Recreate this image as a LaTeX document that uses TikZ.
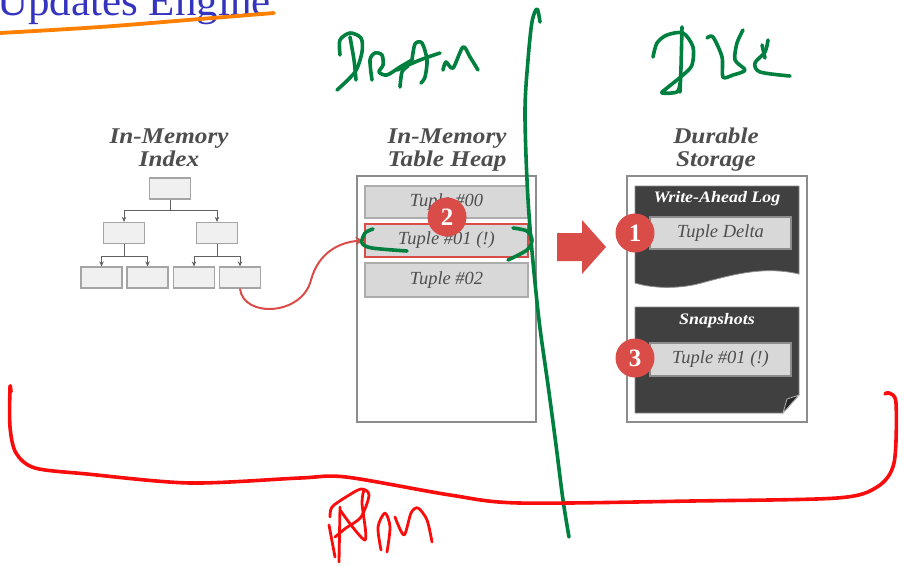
\documentclass[tikz,border=0pt]{standalone}
\usepackage{fontspec}
\newfontfamily\slidefont{Liberation Serif}
\newfontfamily\headfont[FakeStretch=1.12]{Liberation Serif}
\newfontfamily\bodyfont{Liberation Serif}
\usetikzlibrary{arrows.meta}
\definecolor{badgered}{RGB}{218,76,72}
\definecolor{titlegray}{RGB}{78,78,78}
\definecolor{boxfill}{RGB}{240,240,240}
\definecolor{boxline}{RGB}{165,165,165}
\definecolor{tupfill}{RGB}{216,216,216}
\definecolor{tupline}{RGB}{172,172,172}
\definecolor{darkpage}{RGB}{64,64,64}
\definecolor{penGreen}{RGB}{0,128,62}
\definecolor{penRed}{RGB}{248,12,12}
\definecolor{penOrange}{RGB}{255,128,0}
\definecolor{slideblue}{RGB}{52,52,190}
\tikzset{
  coltitle/.style={anchor=base, inner sep=0, text=titlegray, font=\headfont\fontsize{22.5}{24}\selectfont\bfseries\itshape},
  treebox/.style={draw=boxline, fill=boxfill, line width=1.2pt, minimum width=41pt, minimum height=21pt, inner sep=0},
  treeline/.style={draw=black!62, line width=0.9pt, -{Stealth[length=5pt,width=4.5pt]}},
  container/.style={draw=black!45, fill=white, line width=1.5pt, inner sep=0},
  tuplebox/.style={draw=tupline, fill=tupfill, line width=1.2pt, inner sep=0, text=titlegray, font=\bodyfont\fontsize{18.5}{18.5}\selectfont\itshape},
  badge/.style={circle, fill=badgered, text=white, inner sep=0, minimum size=39pt, font=\bodyfont\fontsize{25}{25}\selectfont\bfseries},
  pagetitle/.style={text=white, inner sep=0, font=\headfont\fontsize{16}{16}\selectfont\bfseries\itshape},
  greenpen/.style={draw=penGreen, line width=3.6pt, line cap=round, line join=round},
  redpen/.style={draw=penRed, line width=3.6pt, line cap=round, line join=round},
}
\begin{document}
\begin{tikzpicture}[x=1pt, y=-1pt]
\useasboundingbox (0,0) rectangle (905,565);

% slide title (cut off) and orange underline
\node[anchor=base west, inner sep=0, text=slideblue, font=\fontsize{43}{43}\selectfont\slidefont] (slidetitle) at (-3,15) {Updates Engine};
\draw[draw=penOrange, line width=3.8pt, line cap=round] plot[smooth] coordinates {(0,33) (100,27) (200,19) (274,13)};

% column titles
\node[coltitle] (it1) at (169,143) {In-Memory};
\node[coltitle] (it2) at (169,166) {Index};
\node[coltitle] (ht1) at (447,143) {In-Memory};
\node[coltitle] (ht2) at (447,166) {Table Heap};
\node[coltitle] (st1) at (716,143) {Durable};
\node[coltitle] (st2) at (716,166) {Storage};

% index tree
\node[treebox] (root) at (170,188.5) {};
\node[treebox] (l2a) at (124,233) {};
\node[treebox] (l2b) at (217,233) {};
\node[treebox] (lf1) at (101.5,277.5) {};
\node[treebox] (lf2) at (147.5,277.5) {};
\node[treebox] (lf3) at (194,277.5) {};
\node[treebox] (lf4) at (240,277.5) {};
\draw[treeline] (root.south) -- ++(0,10.5) -| (l2a.north);
\draw[treeline] (root.south) -- ++(0,10.5) -| (l2b.north);
\draw[treeline] (l2a.south) -- ++(0,12) -| (lf1.north);
\draw[treeline] (l2a.south) -- ++(0,12) -| (lf2.north);
\draw[treeline] (l2b.south) -- ++(0,12) -| (lf3.north);
\draw[treeline] (l2b.south) -- ++(0,12) -| (lf4.north);

% table heap
\node[container, minimum width=179pt, minimum height=246pt] (heap) at (446.5,299) {};
\node[tuplebox, minimum width=163pt, minimum height=32pt] (t0) at (446.5,202) {Tuple \#00};
\node[tuplebox, draw=badgered, minimum width=163pt, minimum height=33pt] (t1) at (446.5,240.5) {Tuple \#01 (!)};
\node[tuplebox, minimum width=163pt, minimum height=34pt] (t2) at (446.5,280) {Tuple \#02};
\node[badge] (b2) at (447,217) {2};

% red connector from index leaf to tuple
\draw[draw=badgered, line width=2pt, -{Stealth[length=9pt,width=8pt]}]
  (lf4.south) .. controls (243,318) and (302,316) .. (311,280)
  .. controls (318,254) and (338,242) .. (t1.west);

% big red arrow
\fill[badgered] (557,233) -- (582,233) -- (582,220) -- (606,247) -- (582,274) -- (582,261) -- (557,261) -- cycle;

% durable storage
\node[container, minimum width=180pt, minimum height=246pt] (store) at (717,299) {};
\fill[darkpage, draw=black!45, line width=0.8pt] (635,186) -- (799,186) -- (799,274)
  .. controls (765,266) and (735,274) .. (705,282)
  .. controls (682,289) and (655,289) .. (635,283) -- cycle;
\node[pagetitle] (walt) at (717,199) {Write-Ahead Log};
\node[tuplebox, draw=black!45, minimum width=141pt, minimum height=32pt] (delta) at (720.5,233) {Tuple Delta};
\node[badge] (b1) at (635,233) {1};

\fill[darkpage, draw=black!45, line width=0.8pt] (635,307) -- (799,307) -- (799,395) -- (783,413) -- (635,413) -- cycle;
\filldraw[fill=black!85, draw=black!30, line width=0.8pt] (799,395) -- (787,399) -- (783,413) -- cycle;
\node[pagetitle] (snapt) at (717,321) {Snapshots};
\node[tuplebox, draw=black!45, minimum width=141pt, minimum height=33pt] (snaptup) at (720.5,359.5) {Tuple \#01 (!)};
\node[badge] (b3) at (635,358) {3};

% green pen: dividing line
\draw[greenpen] plot[smooth, tension=0.55] coordinates {(540,22) (537,9) (532,22) (528,60) (525,110) (527,180) (531,240) (539,320) (548,385) (556,445) (563,500) (569,537)};
% green brackets around tuple #01
\draw[greenpen] plot[smooth, tension=0.5] coordinates {(373,229) (365,233) (362,243) (372,248) (407,251)};
\draw[greenpen] plot[smooth, tension=0.5] coordinates {(513,228) (527,231) (532,240) (527,250) (508,260)};
% green scribble "DRAM"
\draw[greenpen] plot[smooth, tension=0.5] coordinates {(337,90) (355,72) (362,52) (361,38) (350,33) (340,40) (340,55)};
\draw[greenpen] plot[smooth, tension=0.5] coordinates {(350,37) (354,60) (356,80)};
\draw[greenpen] plot[smooth, tension=0.5] coordinates {(372,80) (370,60) (375,53) (382,55) (383,65) (379,72) (387,75) (400,67) (412,60)};
\draw[greenpen] plot[smooth, tension=0.5] coordinates {(400,87) (402,72) (408,66)};
\draw[greenpen] plot[smooth, tension=0.5] coordinates {(412,60) (415,44) (422,43) (427,60) (425,77) (421,83)};
\draw[greenpen] plot[smooth, tension=0.5] coordinates {(397,70) (420,60) (440,53)};
\draw[greenpen] plot[smooth, tension=0.5] coordinates {(443,70) (446,62) (453,68) (463,47) (470,57) (478,70)};
% green scribble "DISK"
\draw[greenpen] plot[smooth, tension=0.5] coordinates {(653,57) (657,43) (667,35) (683,33) (693,47) (692,65) (683,75) (667,88) (662,93) (677,92) (680,83)};
\draw[greenpen] plot[smooth, tension=0.5] coordinates {(682,27) (681,67) (680,92)};
\draw[greenpen] plot[smooth, tension=0.5] coordinates {(707,38) (713,37) (722,57) (723,77) (733,75) (745,70) (735,60) (737,43) (743,30)};
\draw[greenpen] plot[smooth, tension=0.5] coordinates {(768,40) (765,52) (755,63) (760,72) (790,76)};
\draw[greenpen] plot[smooth, tension=0.5] coordinates {(762,45) (765,58)};

% red pen: brace under everything
\draw[redpen] plot[smooth, tension=0.5] coordinates {(11,392) (10,387) (10,427) (16,453) (35,468) (87,474) (190,483) (300,478) (346,477) (450,495) (519,503) (692,501) (837,498) (877,487) (894,463) (896,403) (889,393) (885,394)};
% red scribble "PM"
\draw[redpen, line width=2.8pt] plot[smooth, tension=0.5] coordinates {(330,517) (332,507) (346,497) (361,489) (369,495) (361,517) (346,528) (335,537)};
\draw[redpen, line width=2.8pt] plot[smooth, tension=0.5] coordinates {(340,507) (339,562)};
\draw[redpen, line width=2.8pt] plot[smooth, tension=0.5] coordinates {(329,525) (335,557)};
\draw[redpen, line width=2.8pt] plot[smooth, tension=0.5] coordinates {(340,510) (365,540) (362,503) (364,490)};
\draw[redpen, line width=2.8pt] plot[smooth, tension=0.5] coordinates {(381,550) (378,527) (385,513) (390,527) (387,552)};
\draw[redpen, line width=2.8pt] plot[smooth, tension=0.5] coordinates {(395,517) (404,535) (411,513) (418,508) (427,520) (432,542)};
\end{tikzpicture}
\end{document}
